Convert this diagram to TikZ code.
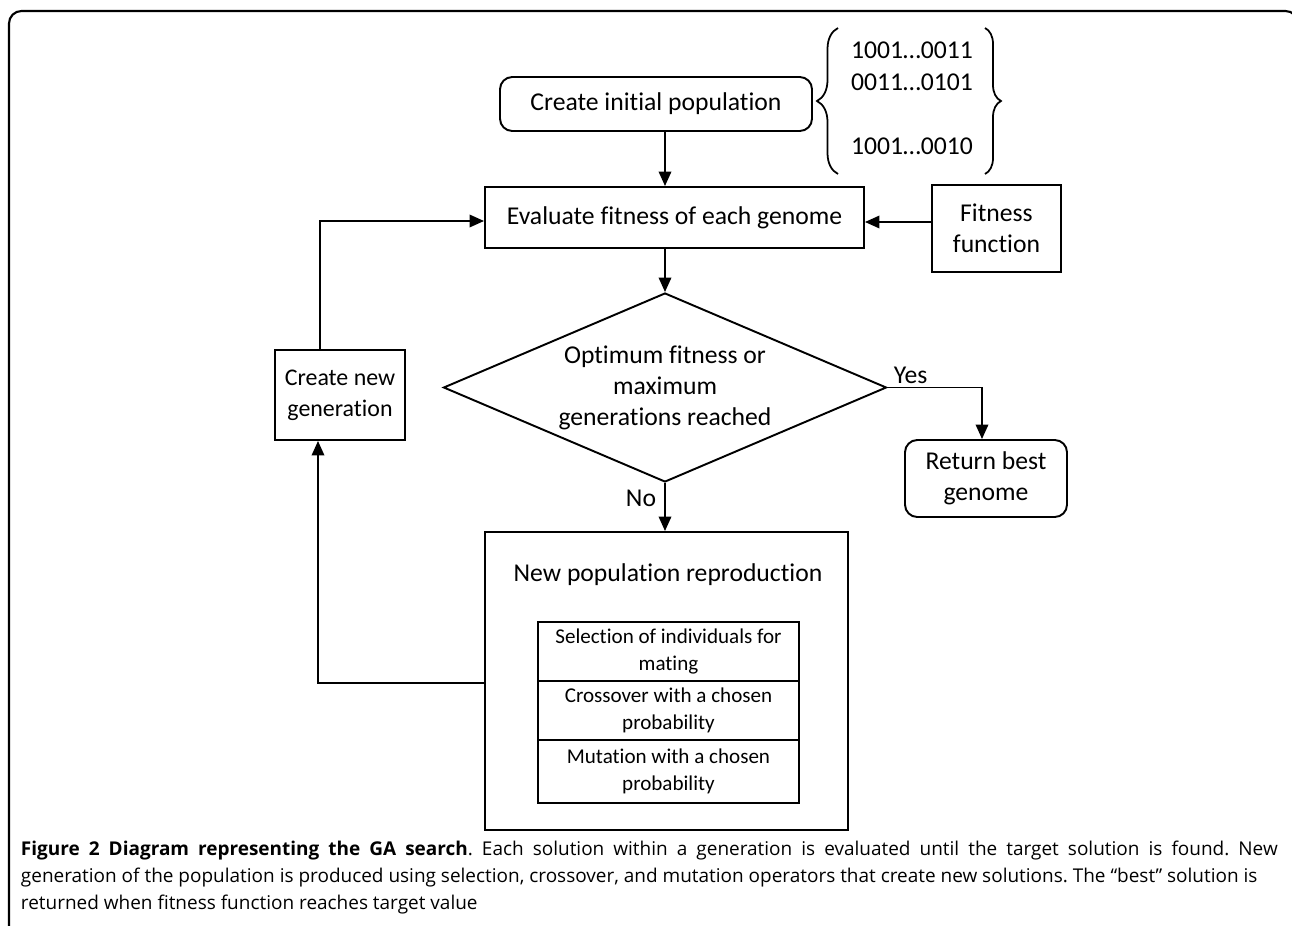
\documentclass[tikz,border=0pt]{standalone}
\usepackage{fontspec}
\setmainfont{Carlito}[Ligatures=NoCommon]
\newfontfamily\capfont{Open Sans}
\usetikzlibrary{arrows.meta,shapes.geometric,decorations.pathreplacing}
\begin{document}
\begin{tikzpicture}[x=0.02cm,y=-0.02cm,
  line width=1.1pt,
  wpx/.style={minimum width=#1*0.02cm},
  hpx/.style={minimum height=#1*0.02cm},
  mainfont/.style={font=\fontsize{14.6}{17.6}\selectfont},
  boxstyle/.style={draw, rectangle, inner sep=0pt, align=center, mainfont},
  roundbox/.style={boxstyle, rounded corners=7pt},
  cellstyle/.style={draw, line width=0.8pt, rectangle, inner sep=0pt, align=center, font=\fontsize{12}{15.3}\selectfont},
  arr/.style={-{Triangle[length=0.29cm,width=0.25cm]}},
  lbl/.style={mainfont, inner sep=0pt},
  bracestyle/.style={decorate, decoration={brace, amplitude=#1}, line width=1pt}
]
\useasboundingbox (0,0) rectangle (1292,926);
% outer frame
\draw[line width=1.2pt, rounded corners=0.25cm] (9,940) -- (9,11) -- (1298,11) -- (1298,940);

% nodes
\node[roundbox, wpx=312, hpx=54] (create) at (656,104) {Create initial population};
\node[boxstyle, wpx=379, hpx=61] (eval) at (674.5,217.5) {Evaluate fitness of each genome};
\node[boxstyle, wpx=129, hpx=87] (fit) at (996.5,228.5) {Fitness\\function};
\node[draw, diamond, aspect=2.34, inner sep=0pt, wpx=443, hpx=189, align=center, mainfont] (dec) at (665,387.5) {Optimum fitness or\\maximum\\generations reached};
\node[roundbox, wpx=162, hpx=77] (ret) at (986,478.5) {Return best\\genome};
\node[boxstyle, wpx=130, hpx=90, font=\fontsize{13.6}{17.6}\selectfont] (cng) at (340,395) {Create new\\generation};
\node[draw, rectangle, inner sep=0pt, wpx=363, hpx=298] (pop) at (666.5,681) {};
\node[lbl] (poptitle) at (668,575) {New population reproduction};
\node[cellstyle, wpx=261, hpx=59] (sel) at (668.5,651.5) {Selection of individuals for\\mating};
\node[cellstyle, wpx=261, hpx=59] (cro) at (668.5,710.5) {Crossover with a chosen\\probability};
\node[cellstyle, wpx=261, hpx=63] (mut) at (668.5,771.5) {Mutation with a chosen\\probability};

% population strings
\node[lbl] (s1) at (912,50) {1001…0011};
\node[lbl] (s2) at (912,82) {0011…0101};
\node[lbl] (s3) at (912,146) {1001…0010};
\coordinate (lbTop) at (838,28);
\coordinate (lbBot) at (838,174);
\coordinate (rbTop) at (985,28);
\coordinate (rbBot) at (985,174);
\draw[bracestyle=0.42cm] (lbBot) -- (lbTop);
\draw[bracestyle=0.32cm] (rbTop) -- (rbBot);

% connectors
\coordinate (axis) at (665,0);
\draw[arr] (create.south -| axis) -- (eval.north -| axis);
\draw[arr] (eval.south -| dec.north) -- (dec.north);
\draw[arr] (fit.west |- 0,222) -- (eval.east |- 0,222);
\coordinate (yesc) at (982,387.5);
\draw[arr] (dec.east) -- (yesc) -- (ret.north -| yesc);
\node[lbl, anchor=south west] (yes) at (893,385) {Yes};
\draw[arr] (dec.south) -- (pop.north -| dec.south);
\node[lbl] (no) at (641,498) {No};
\coordinate (loopA) at (318,683);
\draw[arr] (pop.west |- loopA) -- (loopA) -- (cng.south -| loopA);
\coordinate (loopB) at (320,221);
\draw[arr] (cng.north -| loopB) -- (loopB) -- (eval.west |- loopB);

% caption
\node[anchor=north west, inner sep=0pt, align=left, font=\capfont\fontsize{10.8}{15.3}\selectfont\frenchspacing] (cap) at (20,840)
{\hbox to 25.14cm{\textbf{Figure 2 Diagram representing the GA search}. Each solution within a generation is evaluated until the target solution is found. New}\\
generation of the population is produced using selection, crossover, and mutation operators that create new solutions. The “best” solution is\\
returned when fitness function reaches target value};
\end{tikzpicture}
\end{document}
